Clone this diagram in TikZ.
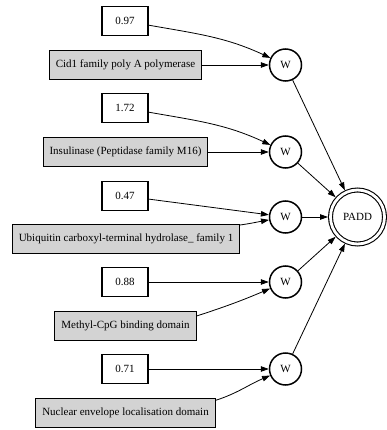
\documentclass[tikz,border=0pt]{standalone}
\usepackage{fontspec}
\setmainfont{Liberation Serif}
\usetikzlibrary{arrows.meta}
\definecolor{boxgray}{HTML}{D3D3D3}
\tikzset{
  weightbox/.style={draw, line width=1.7pt, minimum width=46pt, minimum height=29pt, inner sep=0pt, font=\fontsize{11}{13}\selectfont},
  featbox/.style={draw, fill=boxgray, line width=0.9pt, minimum height=29pt, inner xsep=6.5pt, inner ysep=0pt, font=\fontsize{11}{13}\selectfont},
  wnode/.style={draw, circle, line width=1.5pt, minimum size=32pt, inner sep=0pt, font=\fontsize{11}{13}\selectfont},
  outnode/.style={draw, circle, line width=1.1pt, double, double distance=2.8pt, minimum size=54pt, inner sep=0pt, outer sep=2.5pt, font=\fontsize{11}{13}\selectfont},
  link/.style={line width=0.8pt, -{Triangle[length=8pt,width=5.5pt]}}
}
\begin{document}
\begin{tikzpicture}[x=1pt,y=1pt]
\useasboundingbox (0,0) rectangle (387,-430);

% weight inputs
\node[weightbox] (n1) at (125,-21)  {0.97};
\node[weightbox] (n2) at (125,-108) {1.72};
\node[weightbox] (n3) at (125,-196) {0.47};
\node[weightbox] (n4) at (125,-282) {0.88};
\node[weightbox] (n5) at (125,-369) {0.71};

% domain features
\node[featbox] (c1) at (125.5,-65)  {Cid1 family poly A polymerase};
\node[featbox] (c2) at (125.5,-152) {Insulinase (Peptidase family M16)};
\node[featbox] (c3) at (126,-239)   {Ubiquitin carboxyl-terminal hydrolase\_ family 1};
\node[featbox] (c4) at (125.5,-326) {Methyl-CpG binding domain};
\node[featbox] (c5) at (125.5,-413) {Nuclear envelope localisation domain};

% weighting nodes
\node[wnode] (w1) at (285.5,-65)  {W};
\node[wnode] (w2) at (285.5,-152) {W};
\node[wnode] (w3) at (285.5,-217) {W};
\node[wnode] (w4) at (285.5,-282) {W};
\node[wnode] (w5) at (285.5,-369) {W};

% output
\node[outnode] (padd) at (357.5,-217) {PADD};

% edges into the weighting nodes
\draw[link] (n1) to[out=-10,in=155] (w1);
\draw[link] (c1) -- (w1);
\draw[link] (n2) to[out=-10,in=155] (w2);
\draw[link] (c2) -- (w2);
\draw[link] (n3) -- (w3);
\draw[link] (c3.7.5) to[out=8,in=190] (w3);
\draw[link] (n4) -- (w4);
\draw[link] (c4.8.7) to[out=18,in=203] (w4);
\draw[link] (n5) -- (w5);
\draw[link] (c5.8.3) to[out=18,in=203] (w5);

% edges into the output
\foreach \w in {w1,w2,w3,w4,w5}
  \draw[link] (\w) -- (padd);
\end{tikzpicture}
\end{document}
